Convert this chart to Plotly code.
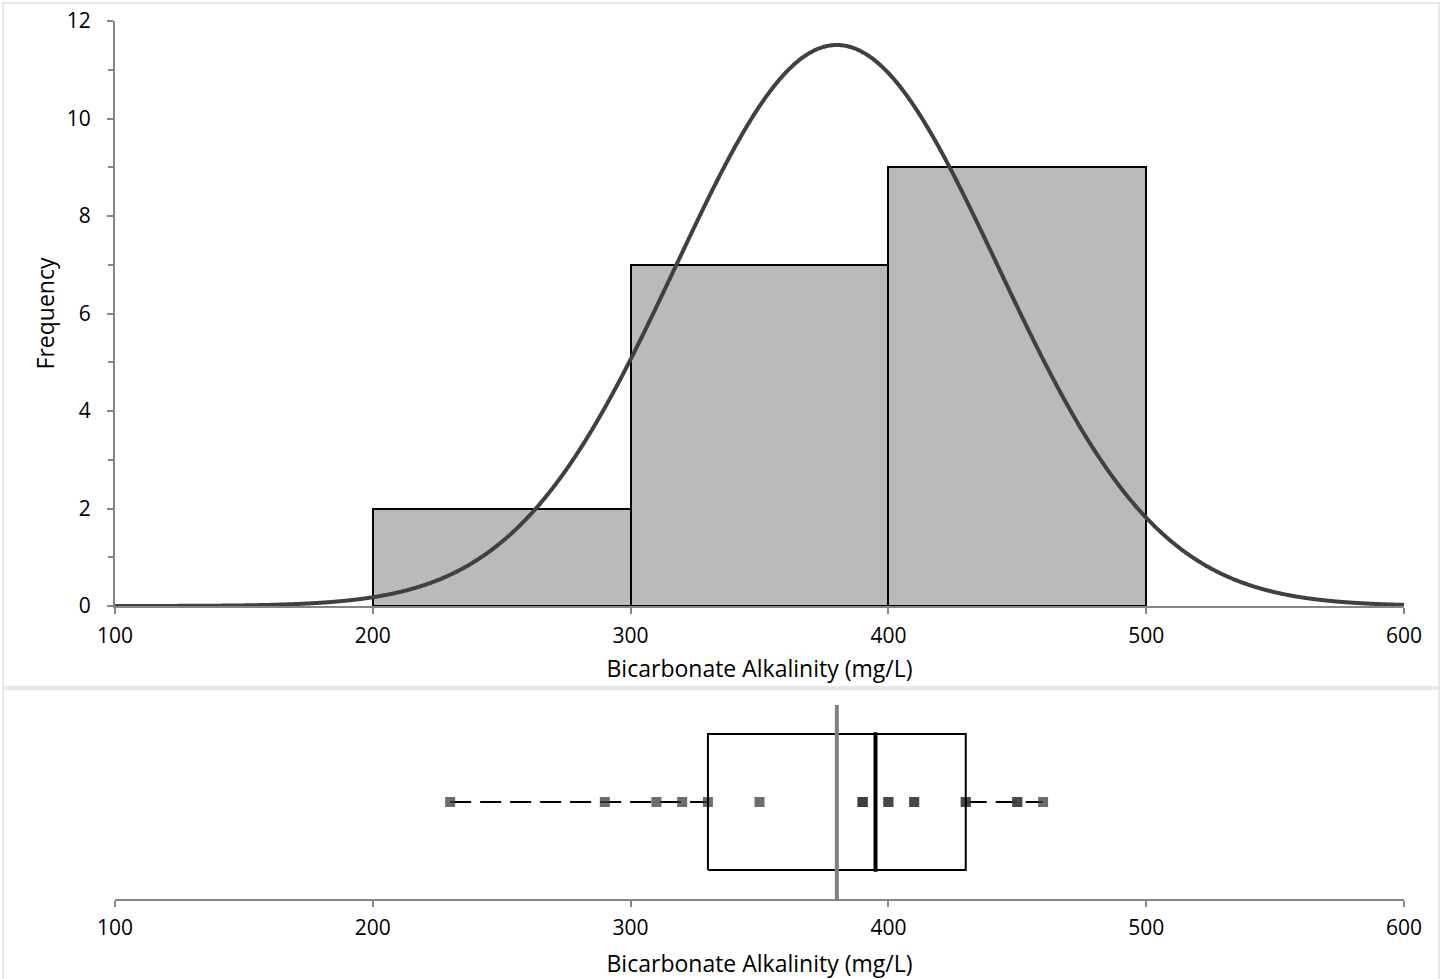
import numpy as np
import plotly.graph_objects as go

# ---- data ----
values = [230, 290, 310, 320, 330, 350, 390, 390, 390, 400, 400,
          410, 410, 430, 430, 450, 450, 460]
bin_edges = [200, 300, 400, 500]
curve_mean = 380.0
curve_sd = 62.4
q1, median, q3 = 330, 395, 430
x_ticks = [100, 200, 300, 400, 500, 600]
y_ticks = [0, 2, 4, 6, 8, 10, 12]
x_title = "Bicarbonate Alkalinity (mg/L)"
y_title = "Frequency"

W, H = 1447, 979
FONT = "Open Sans"
AXIS_GRAY = "#868686"


def fx(p):
    return p / W


def fy(p):
    return 1 - p / H


counts, _ = np.histogram(values, bins=bin_edges)
centers = [(a + b) / 2 for a, b in zip(bin_edges[:-1], bin_edges[1:])]
widths = [b - a for a, b in zip(bin_edges[:-1], bin_edges[1:])]
bw = widths[0]
n = len(values)
xs = np.linspace(100, 600, 1001)
ys = n * bw * np.exp(-0.5 * ((xs - curve_mean) / curve_sd) ** 2) / (curve_sd * np.sqrt(2 * np.pi))
vmin, vmax = min(values), max(values)
mean_val = float(np.mean(values))

fig = go.Figure()

# histogram bars
fig.add_trace(go.Bar(x=centers, y=counts, width=widths,
                     marker=dict(color="#bababa", line=dict(color="#000000", width=2)),
                     xaxis="x", yaxis="y", showlegend=False, hoverinfo="skip"))
# normal curve
fig.add_trace(go.Scatter(x=xs, y=ys, mode="lines",
                         line=dict(color="#404040", width=4, shape="spline"),
                         xaxis="x", yaxis="y", showlegend=False, hoverinfo="skip"))

# box plot: whiskers
fig.add_trace(go.Scatter(x=[vmin, q1], y=[0, 0], mode="lines",
                         line=dict(color="#000000", width=2, dash="21px,9px"),
                         xaxis="x2", yaxis="y2", showlegend=False, hoverinfo="skip"))
fig.add_trace(go.Scatter(x=[q3, vmax], y=[0, 0], mode="lines",
                         line=dict(color="#000000", width=2, dash="21px,9px"),
                         xaxis="x2", yaxis="y2", showlegend=False, hoverinfo="skip"))
# data points
fig.add_trace(go.Scatter(x=values, y=[0] * n, mode="markers",
                         marker=dict(symbol="square", size=10, color="rgba(60,60,60,0.75)",
                                     line=dict(width=0)),
                         xaxis="x2", yaxis="y2", showlegend=False, hoverinfo="skip"))
# box
fig.add_trace(go.Scatter(x=[q1, q3, q3, q1, q1], y=[-0.7, -0.7, 0.7, 0.7, -0.7], mode="lines",
                         line=dict(color="#000000", width=2),
                         xaxis="x2", yaxis="y2", showlegend=False, hoverinfo="skip"))
# median
fig.add_trace(go.Scatter(x=[median, median], y=[-0.72, 0.72], mode="lines",
                         line=dict(color="#000000", width=4),
                         xaxis="x2", yaxis="y2", showlegend=False, hoverinfo="skip"))
# mean
fig.add_trace(go.Scatter(x=[mean_val, mean_val], y=[-1, 1], mode="lines",
                         line=dict(color="#808080", width=4),
                         xaxis="x2", yaxis="y2", showlegend=False, hoverinfo="skip"))

tickfont = dict(family=FONT, size=21, color="#000000")
titlefont = dict(family=FONT, size=23, color="#000000")

axis_common = dict(showline=True, linecolor=AXIS_GRAY, linewidth=2, ticks="outside",
                   ticklen=6, tickwidth=2, tickcolor=AXIS_GRAY, showgrid=False,
                   zeroline=False, automargin=False, tickfont=tickfont)

fig.update_layout(
    width=W, height=H,
    margin=dict(l=0, r=0, t=0, b=0),
    paper_bgcolor="#ffffff", plot_bgcolor="rgba(0,0,0,0)",
    template="none",
    bargap=0,
    xaxis=dict(domain=[fx(115), fx(1404)], range=[100, 600], tickvals=x_ticks,
               anchor="y", layer="below traces", ticklabelstandoff=4,
               title=dict(text=x_title, font=titlefont, standoff=13), **axis_common),
    yaxis=dict(domain=[fy(606), fy(21)], range=[0, 12], tickvals=y_ticks,
               anchor="x", layer="below traces", ticklabelstandoff=12,
               minor=dict(dtick=1, ticks="outside", ticklen=5, tickwidth=2, tickcolor=AXIS_GRAY),
               title=dict(text=y_title, font=titlefont, standoff=6), **axis_common),
    xaxis2=dict(domain=[fx(115), fx(1404)], range=[100, 600], tickvals=x_ticks,
                anchor="y2", layer="below traces", ticklabelstandoff=3,
                title=dict(text=x_title, font=titlefont, standoff=16), **axis_common),
    yaxis2=dict(domain=[fy(899), fy(705)], range=[-1, 1], visible=False, anchor="x2"),
    shapes=[
        dict(type="rect", xref="paper", yref="paper", x0=fx(3), x1=fx(1439), y0=fy(687), y1=fy(3),
             line=dict(color="#e8e8e8", width=2), layer="below"),
        dict(type="rect", xref="paper", yref="paper", x0=fx(3), x1=fx(1439), y0=fy(1000), y1=fy(689),
             line=dict(color="#e8e8e8", width=2), layer="below"),
    ],
)

fig.write_html("out.html")
